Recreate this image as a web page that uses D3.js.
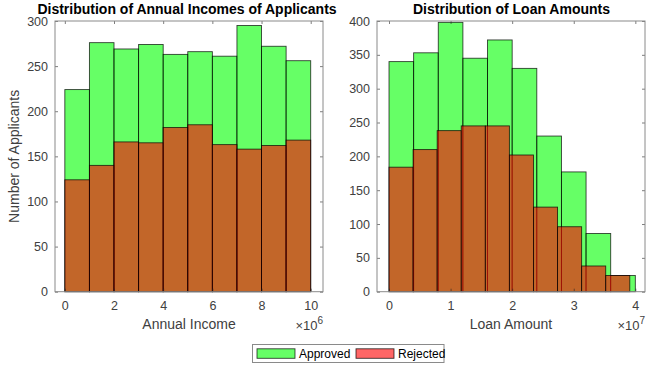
<!DOCTYPE html>
<html>
<head>
<meta charset="utf-8">
<script src="https://cdn.jsdelivr.net/npm/d3@7"></script>
<style>
  html, body { margin: 0; padding: 0; background: #fff; }
  svg { display: block; }
  text { font-family: "Liberation Sans", Arial, Helvetica, sans-serif; }
</style>
</head>
<body>
<svg id="chart" width="646" height="368"></svg>
<script>
// Histogram bin edges and counts
const incomeEdges = [0, 1e6, 2e6, 3e6, 4e6, 5e6, 6e6, 7e6, 8e6, 9e6, 10e6];
const incomeApproved = [224, 276, 269, 274, 263, 266, 261, 295, 272, 256];
const incomeRejected = [124, 140, 166, 165, 182, 185, 163, 158, 162, 168];

const loanApprovedEdges = [0, 4e6, 8e6, 12e6, 16e6, 20e6, 24e6, 28e6, 32e6, 36e6, 40e6];
const loanApproved = [340, 353, 398, 345, 372, 330, 230, 177, 86, 24];
const loanRejectedEdges = [0, 3.91e6, 7.82e6, 11.73e6, 15.64e6, 19.55e6, 23.46e6, 27.37e6, 31.28e6, 35.19e6, 39.1e6];
const loanRejected = [184, 210, 238, 245, 245, 202, 125, 96, 38, 24];

const incomeXTicks = [0, 2e6, 4e6, 6e6, 8e6, 10e6];
const incomeYTicks = [0, 50, 100, 150, 200, 250, 300];
const loanXTicks = [0, 1e7, 2e7, 3e7, 4e7];
const loanYTicks = [0, 50, 100, 150, 200, 250, 300, 350, 400];

const seriesNames = ["Approved", "Rejected"];
const seriesColors = ["#00ff00", "#ff0000"];
const faceAlpha = 0.6;

const svg = d3.select("#chart");
const axisColor = "#262626";
const tickTextColor = "#404040";

function toBins(edges, counts) {
  return counts.map((c, i) => ({ x0: edges[i], x1: edges[i + 1], count: c }));
}

function panel(opts) {
  const { left, right, top, bottom, xDomain, yDomain, xTicks, yTicks,
          exponent, title, titleX, xLabel, yLabel, series } = opts;
  const x = d3.scaleLinear().domain(xDomain).range([left, right]);
  const y = d3.scaleLinear().domain(yDomain).range([bottom, top]);
  const g = svg.append("g");

  // bars: approved first, rejected over it
  series.forEach((s, k) => {
    g.append("g").selectAll("rect")
      .data(toBins(s.edges, s.counts))
      .join("rect")
      .attr("x", d => x(d.x0))
      .attr("width", d => x(d.x1) - x(d.x0))
      .attr("y", d => y(d.count))
      .attr("height", d => y(0) - y(d.count))
      .attr("fill", seriesColors[k])
      .attr("fill-opacity", faceAlpha)
      .attr("stroke", "#000")
      .attr("stroke-opacity", 0.75)
      .attr("stroke-width", 0.9);
  });

  const fmtX = v => d3.format("d")(v / Math.pow(10, exponent));

  // axes (bottom/left with labels, top/right ticks only), ticks pointing inward
  const axB = g.append("g").attr("transform", `translate(0,${bottom})`)
    .call(d3.axisBottom(x).tickValues(xTicks).tickFormat(fmtX).tickSizeInner(-3).tickSizeOuter(0).tickPadding(9));
  const axT = g.append("g").attr("transform", `translate(0,${top})`)
    .call(d3.axisTop(x).tickValues(xTicks).tickFormat("").tickSizeInner(-3).tickSizeOuter(0));
  const axL = g.append("g").attr("transform", `translate(${left},0)`)
    .call(d3.axisLeft(y).tickValues(yTicks).tickSizeInner(-3).tickSizeOuter(0).tickPadding(7));
  const axR = g.append("g").attr("transform", `translate(${right},0)`)
    .call(d3.axisRight(y).tickValues(yTicks).tickFormat("").tickSizeInner(-3).tickSizeOuter(0));

  [axB, axT, axL, axR].forEach(a => {
    a.select(".domain").remove();
    a.selectAll(".tick line").attr("stroke", axisColor).attr("stroke-width", 0.6);
    a.selectAll(".tick text").attr("fill", tickTextColor).style("font-size", "12.5px")
      .style("font-family", "'Liberation Sans', Arial, sans-serif");
  });

  // box
  g.append("rect")
    .attr("x", left).attr("y", top)
    .attr("width", right - left).attr("height", bottom - top)
    .attr("fill", "none").attr("stroke", "#8a8a8a").attr("stroke-width", 1);

  // title
  g.append("text")
    .attr("x", titleX).attr("y", 14)
    .attr("text-anchor", "middle")
    .style("font-size", "14px").style("font-weight", "bold")
    .attr("fill", "#000")
    .text(title);

  // x label
  g.append("text")
    .attr("x", (left + right) / 2).attr("y", 329)
    .attr("text-anchor", "middle")
    .style("font-size", "14px").attr("fill", tickTextColor)
    .text(xLabel);

  // exponent
  const ex = g.append("text")
    .attr("x", right).attr("y", 330)
    .attr("text-anchor", "end")
    .style("font-size", "13px").attr("fill", tickTextColor);
  ex.append("tspan").text("\u00d710");
  ex.append("tspan").attr("dy", -6).style("font-size", "10px").text(String(exponent));

  if (yLabel) {
    g.append("text")
      .attr("transform", `translate(19,${(top + bottom) / 2}) rotate(-90)`)
      .attr("text-anchor", "middle")
      .style("font-size", "14px").attr("fill", tickTextColor)
      .text(yLabel);
  }
}

panel({
  left: 55, right: 323, top: 21, bottom: 291.7,
  xDomain: [-0.4e6, 10.5e6], yDomain: [0, 300],
  xTicks: incomeXTicks, yTicks: incomeYTicks, exponent: 6,
  title: "Distribution of Annual Incomes of Applicants", titleX: 187,
  xLabel: "Annual Income", yLabel: "Number of Applicants",
  series: [
    { edges: incomeEdges, counts: incomeApproved },
    { edges: incomeEdges, counts: incomeRejected }
  ]
});

panel({
  left: 377, right: 645, top: 21, bottom: 291.7,
  xDomain: [-0.195e7, 4.157e7], yDomain: [0, 400],
  xTicks: loanXTicks, yTicks: loanYTicks, exponent: 7,
  title: "Distribution of Loan Amounts", titleX: 511.5,
  xLabel: "Loan Amount", yLabel: null,
  series: [
    { edges: loanApprovedEdges, counts: loanApproved },
    { edges: loanRejectedEdges, counts: loanRejected }
  ]
});

// legend
const legend = svg.append("g");
legend.append("rect")
  .attr("x", 252.5).attr("y", 344.5).attr("width", 191.5).attr("height", 18)
  .attr("fill", "#fff").attr("stroke", "#8a8a8a").attr("stroke-width", 1);
const legendX = [257, 356];
seriesNames.forEach((name, k) => {
  legend.append("rect")
    .attr("x", legendX[k]).attr("y", 348.8).attr("width", 38).attr("height", 9.5)
    .attr("fill", seriesColors[k]).attr("fill-opacity", faceAlpha)
    .attr("stroke", "#000").attr("stroke-opacity", 0.75).attr("stroke-width", 0.9);
  legend.append("text")
    .attr("x", legendX[k] + 42).attr("y", 358)
    .style("font-size", "12px").attr("fill", "#000")
    .text(name);
});
</script>
</body>
</html>
